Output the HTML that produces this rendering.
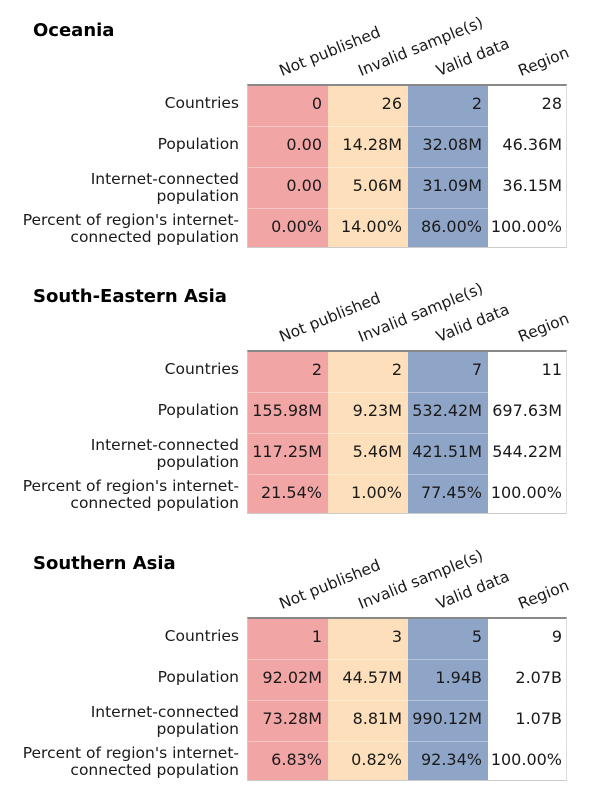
<!DOCTYPE html>
<html><head><meta charset="utf-8"><style>
body{margin:0;width:615px;height:797px;background:#fff;font-family:"DejaVu Sans","Liberation Sans",sans-serif;color:#1a1a1a;overflow:hidden}
.sec{position:absolute;left:0;width:615px;height:266px}
.t{position:absolute;left:33px;top:20px;font-size:18px;font-weight:bold;color:#000}
.h{position:absolute;font-size:15.5px;transform:rotate(-22deg);transform-origin:0 100%;white-space:nowrap;line-height:16px;top:63px}
.tb{position:absolute;left:247px;top:84px;width:320px;height:164px;border-top:2px solid #888;border-left:1px solid #ccc;border-bottom:1px solid #ccc;border-right:1px solid #ddd;box-sizing:border-box}
.c{position:absolute;top:0;height:100%;width:80px}
.r{position:absolute;left:0;width:320px;height:1px;background:rgba(255,255,255,0.35)}
.v{position:absolute;width:74px;text-align:right;font-size:16px;line-height:20px;white-space:nowrap}
.l{position:absolute;right:376px;text-align:right;font-size:15.5px;line-height:17px;white-space:nowrap}
</style></head><body>

<div class="sec" style="top:0">
<div class="t">Oceania</div>
<div class="h" style="left:283px">Not published</div><div class="h" style="left:362px">Invalid sample(s)</div><div class="h" style="left:440px">Valid data</div><div class="h" style="left:522px">Region</div>
<div class="tb"><div class="c" style="left:0;background:#f2a5a5"></div><div class="c" style="left:80px;background:#fde0bb"></div><div class="c" style="left:160px;background:#8fa5c7"></div>
<div class="r" style="top:40px"></div><div class="r" style="top:81px"></div><div class="r" style="top:122px"></div></div>
<div class="l" style="top:95px">Countries</div><div class="l" style="top:136px">Population</div><div class="l" style="top:171px">Internet-connected<br>population</div><div class="l" style="top:212px">Percent of region's internet-<br>connected population</div>
<div class="v" style="left:248px;top:94px">0</div><div class="v" style="left:328px;top:94px">26</div><div class="v" style="left:408px;top:94px">2</div><div class="v" style="left:488px;top:94px">28</div>
<div class="v" style="left:248px;top:135px">0.00</div><div class="v" style="left:328px;top:135px">14.28M</div><div class="v" style="left:408px;top:135px">32.08M</div><div class="v" style="left:488px;top:135px">46.36M</div>
<div class="v" style="left:248px;top:176px">0.00</div><div class="v" style="left:328px;top:176px">5.06M</div><div class="v" style="left:408px;top:176px">31.09M</div><div class="v" style="left:488px;top:176px">36.15M</div>
<div class="v" style="left:248px;top:217px">0.00%</div><div class="v" style="left:328px;top:217px">14.00%</div><div class="v" style="left:408px;top:217px">86.00%</div><div class="v" style="left:488px;top:217px">100.00%</div>
</div>

<div class="sec" style="top:266px">
<div class="t">South-Eastern Asia</div>
<div class="h" style="left:283px">Not published</div><div class="h" style="left:362px">Invalid sample(s)</div><div class="h" style="left:440px">Valid data</div><div class="h" style="left:522px">Region</div>
<div class="tb"><div class="c" style="left:0;background:#f2a5a5"></div><div class="c" style="left:80px;background:#fde0bb"></div><div class="c" style="left:160px;background:#8fa5c7"></div>
<div class="r" style="top:40px"></div><div class="r" style="top:81px"></div><div class="r" style="top:122px"></div></div>
<div class="l" style="top:95px">Countries</div><div class="l" style="top:136px">Population</div><div class="l" style="top:171px">Internet-connected<br>population</div><div class="l" style="top:212px">Percent of region's internet-<br>connected population</div>
<div class="v" style="left:248px;top:94px">2</div><div class="v" style="left:328px;top:94px">2</div><div class="v" style="left:408px;top:94px">7</div><div class="v" style="left:488px;top:94px">11</div>
<div class="v" style="left:248px;top:135px">155.98M</div><div class="v" style="left:328px;top:135px">9.23M</div><div class="v" style="left:408px;top:135px">532.42M</div><div class="v" style="left:488px;top:135px">697.63M</div>
<div class="v" style="left:248px;top:176px">117.25M</div><div class="v" style="left:328px;top:176px">5.46M</div><div class="v" style="left:408px;top:176px">421.51M</div><div class="v" style="left:488px;top:176px">544.22M</div>
<div class="v" style="left:248px;top:217px">21.54%</div><div class="v" style="left:328px;top:217px">1.00%</div><div class="v" style="left:408px;top:217px">77.45%</div><div class="v" style="left:488px;top:217px">100.00%</div>
</div>

<div class="sec" style="top:533px">
<div class="t">Southern Asia</div>
<div class="h" style="left:283px">Not published</div><div class="h" style="left:362px">Invalid sample(s)</div><div class="h" style="left:440px">Valid data</div><div class="h" style="left:522px">Region</div>
<div class="tb"><div class="c" style="left:0;background:#f2a5a5"></div><div class="c" style="left:80px;background:#fde0bb"></div><div class="c" style="left:160px;background:#8fa5c7"></div>
<div class="r" style="top:40px"></div><div class="r" style="top:81px"></div><div class="r" style="top:122px"></div></div>
<div class="l" style="top:95px">Countries</div><div class="l" style="top:136px">Population</div><div class="l" style="top:171px">Internet-connected<br>population</div><div class="l" style="top:212px">Percent of region's internet-<br>connected population</div>
<div class="v" style="left:248px;top:94px">1</div><div class="v" style="left:328px;top:94px">3</div><div class="v" style="left:408px;top:94px">5</div><div class="v" style="left:488px;top:94px">9</div>
<div class="v" style="left:248px;top:135px">92.02M</div><div class="v" style="left:328px;top:135px">44.57M</div><div class="v" style="left:408px;top:135px">1.94B</div><div class="v" style="left:488px;top:135px">2.07B</div>
<div class="v" style="left:248px;top:176px">73.28M</div><div class="v" style="left:328px;top:176px">8.81M</div><div class="v" style="left:408px;top:176px">990.12M</div><div class="v" style="left:488px;top:176px">1.07B</div>
<div class="v" style="left:248px;top:217px">6.83%</div><div class="v" style="left:328px;top:217px">0.82%</div><div class="v" style="left:408px;top:217px">92.34%</div><div class="v" style="left:488px;top:217px">100.00%</div>
</div>

</body></html>
